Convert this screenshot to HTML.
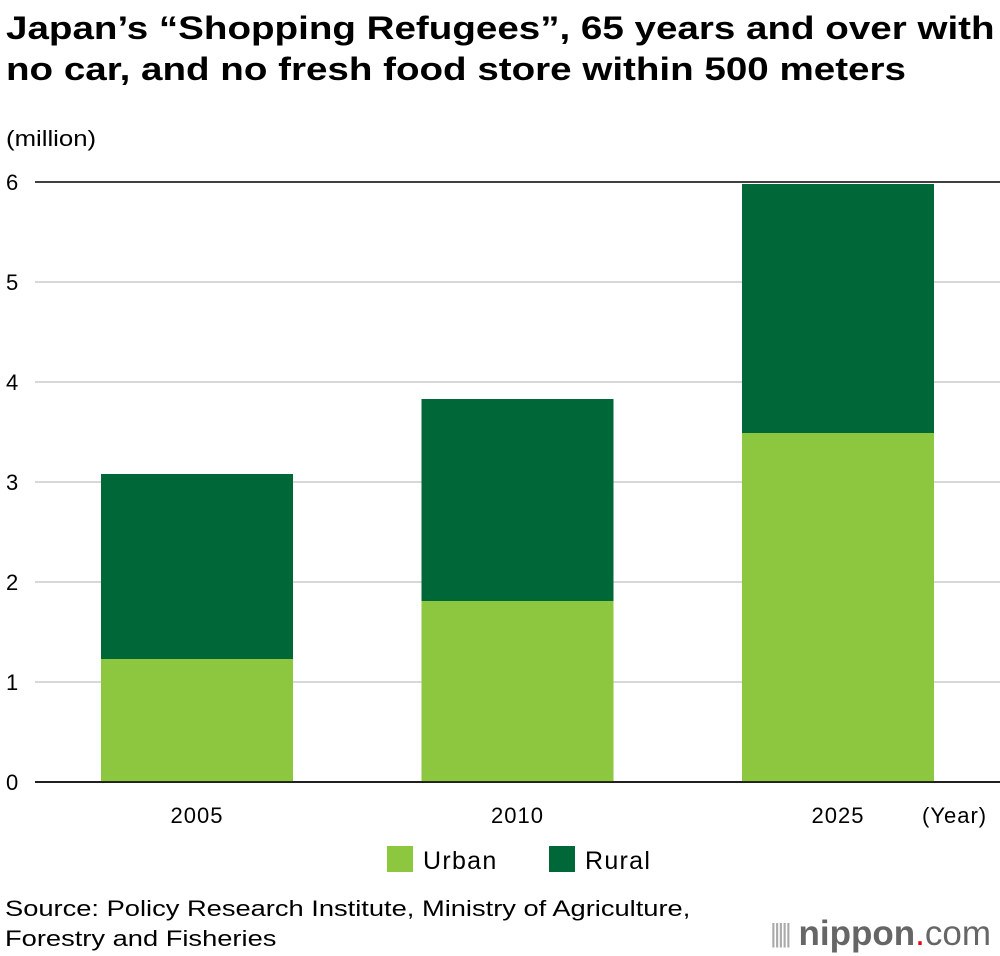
<!DOCTYPE html>
<html><head><meta charset="utf-8">
<style>
body{margin:0;background:#fff;font-family:"Liberation Sans",sans-serif;}
#wrap{position:relative;width:1000px;height:956px;overflow:hidden;}
.t{position:absolute;color:#000;white-space:nowrap;transform-origin:0 0;}
</style></head><body>
<div id="wrap">
<div class="t" style="left:6px;top:8px;font-size:32px;font-weight:bold;line-height:41px;transform:scaleX(1.205)">Japan’s “Shopping Refugees”, 65 years and over with<br>no car, and no fresh food store within 500 meters</div>
<div class="t" style="left:6px;top:126px;font-size:22px;transform:scaleX(1.17)">(million)</div>
<svg id="chart" width="1000" height="956" style="position:absolute;left:0;top:0"></svg>
<div class="t" style="left:5px;top:894px;font-size:22px;line-height:30px;transform:scaleX(1.24)">Source: Policy Research Institute, Ministry of Agriculture,<br>Forestry and Fisheries</div>
<div class="t" style="left:770px;top:913px;font-size:35px;color:#666;line-height:40px"><span style="font-size:26px;color:#aaa;letter-spacing:-3px;vertical-align:3px">|||||</span> <b>nippon</b><span style="color:#e60012">.</span>com</div>
</div>
<script>
const categories=["2005","2010","2025"];
const urban=[1.23,1.81,3.49];
const rural=[1.85,2.02,2.49];
const yTicks=[0,1,2,3,4,5,6];
const NS="http://www.w3.org/2000/svg";
const svg=document.getElementById('chart');
function y(v){return 782-v*100;}
function x(i){return 101+i*320.5;}
const bw=192;
function mk(tag,attrs){const e=document.createElementNS(NS,tag);for(const k in attrs)e.setAttribute(k,attrs[k]);svg.appendChild(e);return e;}
const F='Liberation Sans, sans-serif';
yTicks.forEach(t=>{
 const l=mk('line',{x1:35,x2:1000,y1:y(t),y2:y(t),stroke:t===0||t===6?'#000':'#ccc','stroke-width':1.5});
 
 
 const tx=mk('text',{x:6,y:y(t)+8,'font-size':22,'font-family':F});
 tx.textContent=t;
 
 
});
categories.forEach((c,i)=>{
 const u=mk('rect',{x:x(i),y:y(urban[i]),width:bw,height:y(0)-y(urban[i]),fill:'#8dc63f'});
 
 
 const r=mk('rect',{x:x(i),y:y(urban[i]+rural[i]),width:bw,height:y(urban[i])-y(urban[i]+rural[i]),fill:'#006838'});
 
 
 const t=mk('text',{x:x(i)+bw/2,y:823,'font-size':22,'text-anchor':'middle','font-family':F,'letter-spacing':1});
 t.textContent=c;
 
 
});
mk('line',{x1:35,x2:1000,y1:782,y2:782,stroke:'#000','stroke-width':1.5});
const yl=mk('text',{x:922,y:823,'font-size':22,'font-family':F,'letter-spacing':1});
yl.textContent='(Year)';


[['Urban','#8dc63f',387],['Rural','#006838',549]].forEach(([n,c,lx])=>{
 const r=mk('rect',{x:lx,y:846,width:26,height:26,fill:c});
 
 
 const t=mk('text',{x:lx+36,y:869,'font-size':25,'font-family':F,'letter-spacing':1.3});
 t.textContent=n;
 
 
});
</script>
</body></html>
